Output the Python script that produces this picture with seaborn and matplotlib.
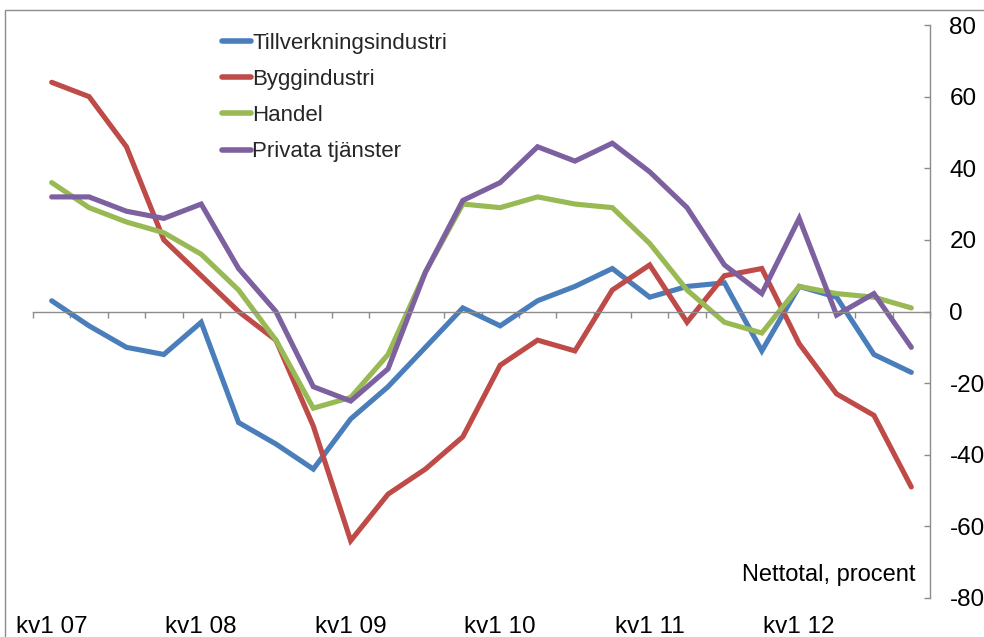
import numpy as np
import pandas as pd
import matplotlib
matplotlib.use("Agg")
import matplotlib.pyplot as plt
import matplotlib.transforms as mtransforms
from matplotlib.patches import Rectangle
from matplotlib.lines import Line2D
import seaborn as sns

sns.set_theme(style="white")
plt.rcParams["font.family"] = ["Liberation Sans", "DejaVu Sans"]

# ---- data ----
quarters = list(range(24))  # kv1 07 .. kv4 12
tick_labels = ["kv1 07", "kv1 08", "kv1 09", "kv1 10", "kv1 11", "kv1 12"]
tick_label_pos = [0, 4, 8, 12, 16, 20]
series_names = ["Tillverkningsindustri", "Byggindustri", "Handel", "Privata tjänster"]

tillverkning = [3, -4, -10, -12, -3, -31, -37, -44, -30, -21, -10, 1,
                -4, 3, 7, 12, 4, 7, 8, -11, 7, 4, -12, -17]
bygg = [64, 60, 46, 20, 10, 0, -8, -32, -64, -51, -44, -35,
        -15, -8, -11, 6, 13, -3, 10, 12, -9, -23, -29, -49]
handel = [36, 29, 25, 22, 16, 6, -8, -27, -24, -12, 11, 30,
          29, 32, 30, 29, 19, 6, -3, -6, 7, 5, 4, 1]
privata = [32, 32, 28, 26, 30, 12, 0, -21, -25, -16, 11, 31,
           36, 46, 42, 47, 39, 29, 13, 5, 26, -1, 5, -10]

colors = ["#4A7EBB", "#BE4B48", "#98B954", "#7D60A0"]

df = pd.DataFrame({
    "kvartal": quarters * 4,
    "varde": tillverkning + bygg + handel + privata,
    "serie": sum([[n] * 24 for n in series_names], []),
})

W, H = 984, 637
fig = plt.figure(figsize=(W / 100, H / 100), dpi=100)
ax = fig.add_axes([33 / W, 1 - 598 / H, (930 - 33) / W, (598 - 25) / H])
ax.set_facecolor("none")

sns.lineplot(data=df, x="kvartal", y="varde", hue="serie", hue_order=series_names,
             palette=colors, linewidth=3.7, ax=ax, legend=False,
             solid_capstyle="round", solid_joinstyle="miter")

grey = "#8C8C8C"
ax.set_xlim(-0.5, 23.5)
ax.set_ylim(-80, 80)
ax.set_xlabel("")
ax.set_ylabel("")

# y axis on right
ax.yaxis.tick_right()
ax.set_yticks(np.arange(-80, 81, 20))
ax.set_yticklabels([str(v) for v in range(-80, 81, 20)])
ax.tick_params(axis="y", direction="in", length=4, width=1, color=grey,
               labelsize=17.5, pad=14, labelcolor="black", right=True, left=False)

# x axis along zero line
for s in ["top", "left"]:
    ax.spines[s].set_visible(False)
ax.spines["right"].set_color(grey)
ax.spines["right"].set_linewidth(1)
ax.spines["bottom"].set_position(("data", 0))
ax.spines["bottom"].set_color(grey)
ax.spines["bottom"].set_linewidth(1)
ax.set_xticks(np.arange(-0.5, 24, 1))
ax.set_xticklabels([])
ax.tick_params(axis="x", direction="out", length=4.5, width=1, color=grey, bottom=True)
ax.grid(False)

# category labels at the bottom
trans = mtransforms.blended_transform_factory(ax.transData, ax.transAxes)
for p, lab in zip(tick_label_pos, tick_labels):
    ax.text(p, -0.05, lab, transform=trans, ha="center", va="center",
            fontsize=17.5, color="black", clip_on=False)

ax.text(0.984, 0.04, "Nettotal, procent", transform=ax.transAxes,
        ha="right", va="center", fontsize=17, color="black")

# legend
handles = [Line2D([0], [0], color=c, lw=4, solid_capstyle="round") for c in colors]
leg = ax.legend(handles, series_names, loc="upper left",
                bbox_to_anchor=((222 - 33) / 897, (598 - 33) / 573),
                frameon=False, fontsize=16, handlelength=1.3, handletextpad=0.05,
                labelspacing=0.68, borderaxespad=0, borderpad=0)

# outer chart frame (partially visible)
fig.patches.append(Rectangle((5 / W, -0.05), 1.2, 1.05 - 10 / H,
                             transform=fig.transFigure, fill=False,
                             edgecolor="#8C8C8C", linewidth=1))

fig.savefig("out.png", dpi=100)
